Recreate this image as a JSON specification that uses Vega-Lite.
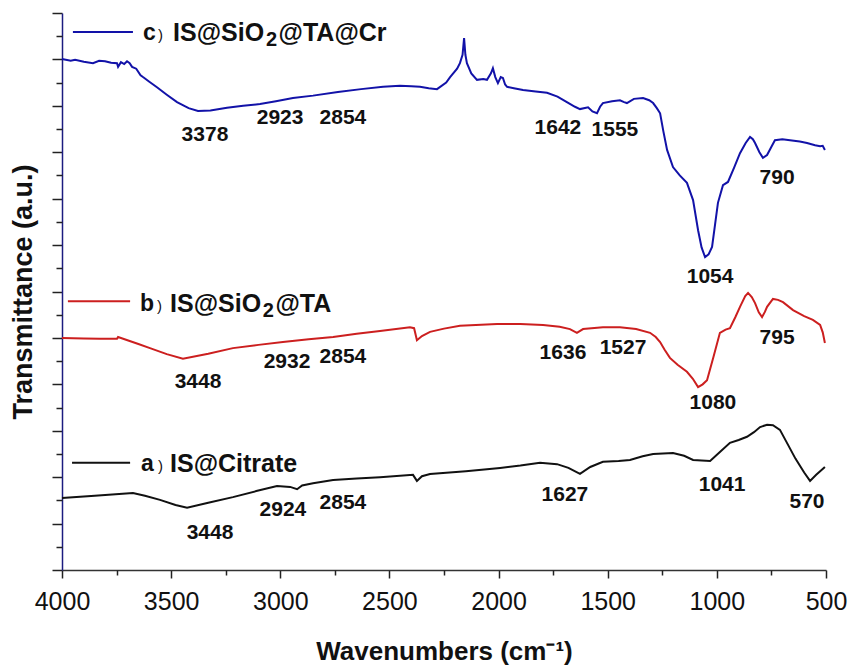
{
  "$schema": "https://vega.github.io/schema/vega-lite/v6.json",
  "width": 764,
  "height": 557,
  "autosize": {"type": "none"},
  "padding": {"left": 62, "top": 13, "right": 24, "bottom": 95},
  "background": "white",
  "config": {"view": {"stroke": null}, "font": "Liberation Sans"},
  "resolve": {"axis": {"x": "independent", "y": "independent"}},
  "datasets": {
    "spec": [
      {"s":"c","w":4000,"t":11.01},{"s":"c","w":3960,"t":10.97},{"s":"c","w":3940,"t":10.99},{"s":"c","w":3900,"t":10.95},{"s":"c","w":3858,"t":10.92},{"s":"c","w":3830,"t":10.97},{"s":"c","w":3803,"t":10.96},{"s":"c","w":3775,"t":10.93},{"s":"c","w":3748,"t":10.92},{"s":"c","w":3743,"t":10.84},{"s":"c","w":3730,"t":10.94},{"s":"c","w":3715,"t":10.90},{"s":"c","w":3702,"t":10.96},{"s":"c","w":3690,"t":10.92},{"s":"c","w":3679,"t":10.84},{"s":"c","w":3660,"t":10.80},{"s":"c","w":3640,"t":10.66},{"s":"c","w":3629,"t":10.62},{"s":"c","w":3600,"t":10.52},{"s":"c","w":3565,"t":10.40},{"s":"c","w":3520,"t":10.24},{"s":"c","w":3473,"t":10.08},{"s":"c","w":3420,"t":9.95},{"s":"c","w":3377,"t":9.89},{"s":"c","w":3320,"t":9.90},{"s":"c","w":3244,"t":9.96},{"s":"c","w":3170,"t":10.00},{"s":"c","w":3093,"t":10.04},{"s":"c","w":3020,"t":10.10},{"s":"c","w":2942,"t":10.17},{"s":"c","w":2850,"t":10.22},{"s":"c","w":2736,"t":10.30},{"s":"c","w":2630,"t":10.36},{"s":"c","w":2529,"t":10.41},{"s":"c","w":2452,"t":10.43},{"s":"c","w":2400,"t":10.42},{"s":"c","w":2360,"t":10.41},{"s":"c","w":2320,"t":10.38},{"s":"c","w":2282,"t":10.36},{"s":"c","w":2240,"t":10.50},{"s":"c","w":2222,"t":10.62},{"s":"c","w":2190,"t":10.80},{"s":"c","w":2177,"t":10.92},{"s":"c","w":2165,"t":11.10},{"s":"c","w":2158,"t":11.46},{"s":"c","w":2152,"t":11.10},{"s":"c","w":2145,"t":10.92},{"s":"c","w":2125,"t":10.70},{"s":"c","w":2099,"t":10.56},{"s":"c","w":2070,"t":10.58},{"s":"c","w":2053,"t":10.56},{"s":"c","w":2035,"t":10.70},{"s":"c","w":2026,"t":10.81},{"s":"c","w":2015,"t":10.62},{"s":"c","w":2003,"t":10.49},{"s":"c","w":1990,"t":10.62},{"s":"c","w":1980,"t":10.60},{"s":"c","w":1970,"t":10.46},{"s":"c","w":1961,"t":10.41},{"s":"c","w":1930,"t":10.38},{"s":"c","w":1888,"t":10.34},{"s":"c","w":1830,"t":10.31},{"s":"c","w":1778,"t":10.28},{"s":"c","w":1730,"t":10.20},{"s":"c","w":1687,"t":10.08},{"s":"c","w":1650,"t":9.98},{"s":"c","w":1627,"t":9.93},{"s":"c","w":1590,"t":9.97},{"s":"c","w":1570,"t":9.88},{"s":"c","w":1549,"t":9.84},{"s":"c","w":1535,"t":9.98},{"s":"c","w":1522,"t":10.06},{"s":"c","w":1480,"t":10.10},{"s":"c","w":1444,"t":10.12},{"s":"c","w":1425,"t":10.08},{"s":"c","w":1412,"t":10.06},{"s":"c","w":1380,"t":10.15},{"s":"c","w":1338,"t":10.17},{"s":"c","w":1310,"t":10.12},{"s":"c","w":1292,"t":10.06},{"s":"c","w":1275,"t":9.95},{"s":"c","w":1260,"t":9.84},{"s":"c","w":1245,"t":9.45},{"s":"c","w":1228,"t":9.05},{"s":"c","w":1201,"t":8.68},{"s":"c","w":1170,"t":8.50},{"s":"c","w":1137,"t":8.34},{"s":"c","w":1109,"t":7.97},{"s":"c","w":1086,"t":7.32},{"s":"c","w":1070,"t":6.95},{"s":"c","w":1054,"t":6.74},{"s":"c","w":1038,"t":6.80},{"s":"c","w":1022,"t":6.96},{"s":"c","w":1008,"t":7.45},{"s":"c","w":995,"t":7.91},{"s":"c","w":972,"t":8.29},{"s":"c","w":949,"t":8.36},{"s":"c","w":920,"t":8.68},{"s":"c","w":894,"t":8.98},{"s":"c","w":868,"t":9.20},{"s":"c","w":848,"t":9.33},{"s":"c","w":835,"t":9.28},{"s":"c","w":825,"t":9.20},{"s":"c","w":805,"t":9.00},{"s":"c","w":789,"t":8.88},{"s":"c","w":770,"t":8.94},{"s":"c","w":750,"t":9.12},{"s":"c","w":734,"t":9.26},{"s":"c","w":700,"t":9.28},{"s":"c","w":665,"t":9.26},{"s":"c","w":620,"t":9.23},{"s":"c","w":587,"t":9.20},{"s":"c","w":550,"t":9.15},{"s":"c","w":527,"t":9.13},{"s":"c","w":515,"t":9.14},{"s":"c","w":505,"t":9.05},
      {"s":"b","w":4000,"t":5.00},{"s":"b","w":3900,"t":4.99},{"s":"b","w":3826,"t":4.98},{"s":"b","w":3748,"t":4.98},{"s":"b","w":3743,"t":5.02},{"s":"b","w":3700,"t":4.95},{"s":"b","w":3650,"t":4.87},{"s":"b","w":3597,"t":4.78},{"s":"b","w":3520,"t":4.65},{"s":"b","w":3446,"t":4.55},{"s":"b","w":3330,"t":4.66},{"s":"b","w":3217,"t":4.78},{"s":"b","w":3100,"t":4.85},{"s":"b","w":2988,"t":4.91},{"s":"b","w":2870,"t":4.97},{"s":"b","w":2758,"t":5.02},{"s":"b","w":2650,"t":5.09},{"s":"b","w":2543,"t":5.15},{"s":"b","w":2406,"t":5.23},{"s":"b","w":2387,"t":5.21},{"s":"b","w":2374,"t":4.95},{"s":"b","w":2351,"t":5.04},{"s":"b","w":2314,"t":5.13},{"s":"b","w":2250,"t":5.20},{"s":"b","w":2177,"t":5.26},{"s":"b","w":2007,"t":5.30},{"s":"b","w":1900,"t":5.30},{"s":"b","w":1796,"t":5.28},{"s":"b","w":1720,"t":5.24},{"s":"b","w":1673,"t":5.19},{"s":"b","w":1641,"t":5.11},{"s":"b","w":1613,"t":5.19},{"s":"b","w":1522,"t":5.23},{"s":"b","w":1444,"t":5.23},{"s":"b","w":1370,"t":5.19},{"s":"b","w":1306,"t":5.11},{"s":"b","w":1280,"t":5.02},{"s":"b","w":1260,"t":4.91},{"s":"b","w":1240,"t":4.75},{"s":"b","w":1215,"t":4.57},{"s":"b","w":1180,"t":4.42},{"s":"b","w":1137,"t":4.27},{"s":"b","w":1110,"t":4.12},{"s":"b","w":1086,"t":3.94},{"s":"b","w":1065,"t":4.00},{"s":"b","w":1045,"t":4.09},{"s":"b","w":1015,"t":4.60},{"s":"b","w":986,"t":5.11},{"s":"b","w":960,"t":5.18},{"s":"b","w":940,"t":5.21},{"s":"b","w":915,"t":5.45},{"s":"b","w":894,"t":5.67},{"s":"b","w":870,"t":5.90},{"s":"b","w":857,"t":5.97},{"s":"b","w":840,"t":5.88},{"s":"b","w":825,"t":5.75},{"s":"b","w":808,"t":5.55},{"s":"b","w":793,"t":5.45},{"s":"b","w":780,"t":5.56},{"s":"b","w":770,"t":5.67},{"s":"b","w":743,"t":5.84},{"s":"b","w":720,"t":5.82},{"s":"b","w":697,"t":5.77},{"s":"b","w":651,"t":5.60},{"s":"b","w":600,"t":5.47},{"s":"b","w":560,"t":5.39},{"s":"b","w":527,"t":5.28},{"s":"b","w":515,"t":5.12},{"s":"b","w":505,"t":4.89},
      {"s":"a","w":4000,"t":1.55},{"s":"a","w":3850,"t":1.60},{"s":"a","w":3675,"t":1.66},{"s":"a","w":3620,"t":1.60},{"s":"a","w":3551,"t":1.51},{"s":"a","w":3480,"t":1.40},{"s":"a","w":3427,"t":1.34},{"s":"a","w":3330,"t":1.45},{"s":"a","w":3217,"t":1.57},{"s":"a","w":3110,"t":1.70},{"s":"a","w":3015,"t":1.81},{"s":"a","w":2955,"t":1.79},{"s":"a","w":2923,"t":1.74},{"s":"a","w":2900,"t":1.82},{"s":"a","w":2850,"t":1.87},{"s":"a","w":2758,"t":1.94},{"s":"a","w":2650,"t":1.97},{"s":"a","w":2543,"t":2.00},{"s":"a","w":2392,"t":2.05},{"s":"a","w":2374,"t":1.92},{"s":"a","w":2351,"t":2.02},{"s":"a","w":2314,"t":2.07},{"s":"a","w":2150,"t":2.13},{"s":"a","w":1993,"t":2.20},{"s":"a","w":1900,"t":2.25},{"s":"a","w":1810,"t":2.31},{"s":"a","w":1732,"t":2.28},{"s":"a","w":1680,"t":2.20},{"s":"a","w":1627,"t":2.07},{"s":"a","w":1580,"t":2.22},{"s":"a","w":1522,"t":2.33},{"s":"a","w":1450,"t":2.35},{"s":"a","w":1398,"t":2.37},{"s":"a","w":1340,"t":2.45},{"s":"a","w":1292,"t":2.50},{"s":"a","w":1201,"t":2.52},{"s":"a","w":1150,"t":2.46},{"s":"a","w":1109,"t":2.37},{"s":"a","w":1031,"t":2.35},{"s":"a","w":986,"t":2.54},{"s":"a","w":940,"t":2.74},{"s":"a","w":900,"t":2.80},{"s":"a","w":862,"t":2.87},{"s":"a","w":830,"t":2.97},{"s":"a","w":802,"t":3.08},{"s":"a","w":770,"t":3.13},{"s":"a","w":743,"t":3.12},{"s":"a","w":711,"t":3.02},{"s":"a","w":680,"t":2.75},{"s":"a","w":640,"t":2.40},{"s":"a","w":600,"t":2.10},{"s":"a","w":573,"t":1.92},{"s":"a","w":545,"t":2.05},{"s":"a","w":505,"t":2.22}
    ],
    "labels": [
      {"w":3345,"t":9.37,"txt":"3378"},{"w":3001,"t":9.74,"txt":"2923"},{"w":2713,"t":9.74,"txt":"2854"},{"w":1728,"t":9.52,"txt":"1642"},{"w":1467,"t":9.48,"txt":"1555"},{"w":1031,"t":6.31,"txt":"1054"},{"w":724,"t":8.44,"txt":"790"},
      {"w":3377,"t":4.05,"txt":"3448"},{"w":2969,"t":4.48,"txt":"2932"},{"w":2713,"t":4.59,"txt":"2854"},{"w":1705,"t":4.67,"txt":"1636"},{"w":1430,"t":4.78,"txt":"1527"},{"w":1018,"t":3.60,"txt":"1080"},{"w":724,"t":5.00,"txt":"795"},
      {"w":3322,"t":0.80,"txt":"3448"},{"w":2988,"t":1.29,"txt":"2924"},{"w":2713,"t":1.44,"txt":"2854"},{"w":1696,"t":1.62,"txt":"1627"},{"w":976,"t":1.83,"txt":"1041"},{"w":587,"t":1.46,"txt":"570"}
    ],
    "legend": [
      {"s":"c","w1":3950,"w2":3675,"t":11.59,"tt":11.57,"wl":3629,"wp":3560,"wn":3491,"n1":"IS@SiO","wsub":3066,"sub":"2","wn3":3008,"n3":"@TA@Cr"},
      {"s":"b","w1":3973,"w2":3688,"t":5.79,"tt":5.74,"wl":3643,"wp":3565,"wn":3505,"n1":"IS@SiO","wsub":3080,"sub":"2","wn3":3022,"n3":"@TA"},
      {"s":"a","w1":3954,"w2":3688,"t":2.31,"tt":2.28,"wl":3638,"wp":3560,"wn":3505,"n1":"IS@Citrate","wsub":3080,"sub":"","wn3":3022,"n3":""}
    ]
  },
  "layer": [
    {
      "data": {"name": "spec"},
      "mark": {"type": "line", "strokeWidth": 2},
      "encoding": {
        "x": {"field": "w", "type": "quantitative",
          "scale": {"domain": [500, 4000], "reverse": true, "nice": false, "zero": false},
          "axis": {"title": "Wavenumbers (cm⁻¹)", "orient": "bottom", "values": [500,1000,1500,2000,2500,3000,3500,4000],
            "format": "d", "tickSize": 8,
            "labelFontSize": 25, "labelFont": "Liberation Sans", "labelColor": "#111", "labelPadding": 11, "labelFlush": false, "labelOverlap": false,
            "titleFontSize": 26, "titleFont": "Liberation Sans", "titleFontWeight": "bold", "titleColor": "#111", "titlePadding": 24,
            "domainColor": "#333", "domainWidth": 1.5, "tickColor": "#222", "tickWidth": 1.5, "grid": false}},
        "y": {"field": "t", "type": "quantitative",
          "scale": {"domain": [0, 12], "nice": false, "zero": false},
          "axis": {"title": "Transmittance (a.u.)", "orient": "left", "values": [0,1,2,3,4,5,6,7,8,9,10,11,12],
            "labels": false, "tickSize": 10,
            "titleFontSize": 27, "titleFont": "Liberation Sans", "titleFontWeight": "bold", "titleColor": "#111", "titlePadding": 14,
            "domainColor": "#1c1c80", "domainWidth": 1.5, "tickColor": "#222", "tickWidth": 1.5, "grid": false}},
        "color": {"field": "s", "type": "nominal", "scale": {"domain": ["a","b","c"], "range": ["#111111","#cc1f1f","#1212a8"]}, "legend": null}
      }
    },
    {
      "data": {"name": "legend"},
      "mark": {"type": "rule", "strokeWidth": 2},
      "encoding": {
        "x": {"field": "w1", "type": "quantitative", "axis": null},
        "x2": {"field": "w2"},
        "y": {"field": "t", "type": "quantitative", "axis": null},
        "color": {"field": "s", "type": "nominal", "legend": null}
      }
    },
    {
      "data": {"name": "legend"},
      "mark": {"type": "text", "align": "left", "baseline": "middle", "fontSize": 23, "fontWeight": "bold", "font": "Liberation Sans", "color": "#111"},
      "encoding": {
        "x": {"field": "wl", "type": "quantitative", "axis": null},
        "y": {"field": "tt", "type": "quantitative", "axis": null},
        "text": {"field": "s"}
      }
    },
    {
      "data": {"name": "legend"},
      "mark": {"type": "text", "align": "left", "baseline": "middle", "fontSize": 15, "font": "Liberation Sans", "color": "#111", "dy": 2},
      "encoding": {
        "x": {"field": "wp", "type": "quantitative", "axis": null},
        "y": {"field": "tt", "type": "quantitative", "axis": null},
        "text": {"value": ")"}
      }
    },
    {
      "data": {"name": "legend"},
      "mark": {"type": "text", "align": "left", "baseline": "middle", "fontSize": 25, "fontWeight": "bold", "font": "Liberation Sans", "color": "#111"},
      "encoding": {
        "x": {"field": "wn", "type": "quantitative", "axis": null},
        "y": {"field": "tt", "type": "quantitative", "axis": null},
        "text": {"field": "n1"}
      }
    },
    {
      "data": {"name": "legend"},
      "mark": {"type": "text", "align": "left", "baseline": "middle", "fontSize": 20, "fontWeight": "bold", "font": "Liberation Sans", "color": "#111", "dy": 7},
      "encoding": {
        "x": {"field": "wsub", "type": "quantitative", "axis": null},
        "y": {"field": "tt", "type": "quantitative", "axis": null},
        "text": {"field": "sub"}
      }
    },
    {
      "data": {"name": "legend"},
      "mark": {"type": "text", "align": "left", "baseline": "middle", "fontSize": 25, "fontWeight": "bold", "font": "Liberation Sans", "color": "#111"},
      "encoding": {
        "x": {"field": "wn3", "type": "quantitative", "axis": null},
        "y": {"field": "tt", "type": "quantitative", "axis": null},
        "text": {"field": "n3"}
      }
    },
    {
      "data": {"name": "labels"},
      "mark": {"type": "text", "align": "center", "baseline": "middle", "fontSize": 21, "fontWeight": "bold", "font": "Liberation Sans", "color": "#111"},
      "encoding": {
        "x": {"field": "w", "type": "quantitative",
          "axis": {"title": null, "orient": "bottom", "values": [750,1250,1750,2250,2750,3250,3750], "labels": false, "domain": false, "tickSize": 5, "tickColor": "#222", "tickWidth": 1.5, "grid": false}},
        "y": {"field": "t", "type": "quantitative",
          "axis": {"title": null, "orient": "left", "values": [0.5,1.5,2.5,3.5,4.5,5.5,6.5,7.5,8.5,9.5,10.5,11.5], "labels": false, "domain": false, "tickSize": 6, "tickColor": "#222", "tickWidth": 1.5, "grid": false}},
        "text": {"field": "txt"}
      }
    }
  ]
}
